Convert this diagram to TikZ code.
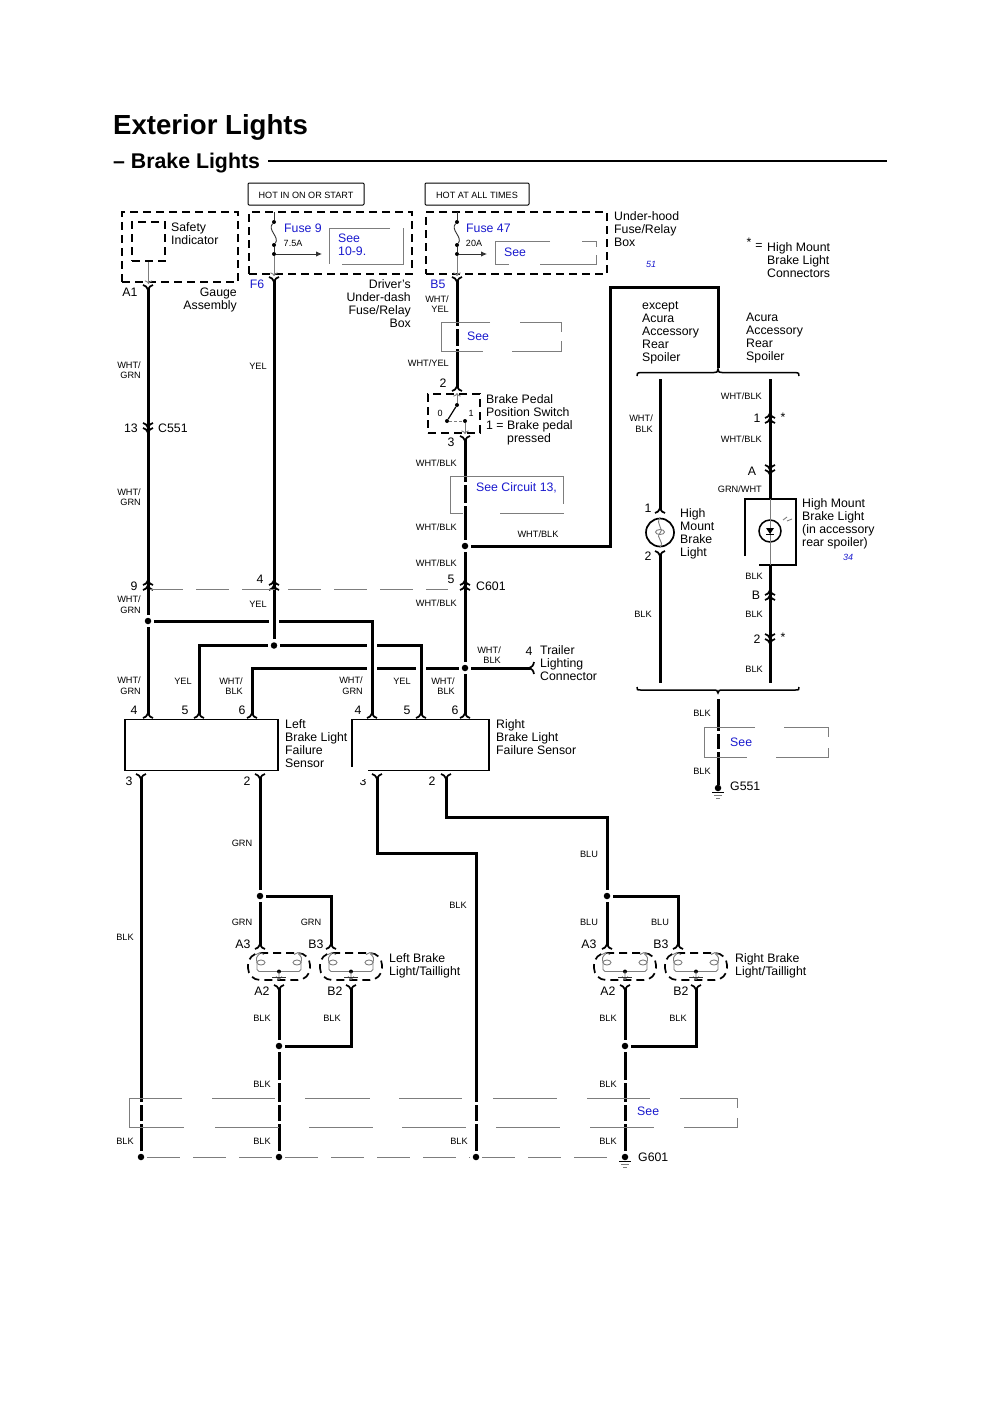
\documentclass[tikz,border=0pt]{standalone}
\usepackage{fontspec}
\setmainfont{Liberation Sans}
\usetikzlibrary{arrows.meta}
\definecolor{seeblue}{RGB}{25,25,205}
\definecolor{seegray}{RGB}{125,125,125}
\tikzset{
	wire/.style={line width=3pt},
	halo/.style={preaction={draw,white,line width=10pt}},
	seeline/.style={draw=seegray,line width=1pt},
	seedash/.style={draw=seegray,line width=1pt,dash pattern=on 33pt off 13pt},
	thingray/.style={draw=seegray,line width=0.9pt},
	thinblack/.style={draw=black!80,line width=0.9pt},
	dashbox/.style={draw,line width=1.7pt,dash pattern=on 8pt off 5pt,inner sep=0},
	solidbox/.style={draw,line width=1.4pt,inner sep=0},
	hotbox/.style={draw,line width=1pt,rounded corners=1pt,inner sep=0,text height=9pt,text depth=0pt,font=\fontsize{9.1}{10}\selectfont},
	junction/.style={circle,fill=black,inner sep=0,minimum size=6.5pt,outer sep=3pt},
	tinydot/.style={circle,fill=black,inner sep=0,minimum size=4pt},
	bigtext/.style={inner sep=0,anchor=west,align=left,font=\fontsize{12.3}{13}\selectfont},
	bigright/.style={bigtext,anchor=east,align=right},
	bluetext/.style={bigtext,text=seeblue},
	pagetext/.style={inner sep=0,text=seeblue,font=\itshape\fontsize{9}{10}\selectfont},
	smalltext/.style={inner sep=0,font=\fontsize{9}{10}\selectfont},
	wiretext/.style={inner sep=0,anchor=east,align=right,font=\fontsize{9.2}{10.5}\selectfont},
	wiremid/.style={inner sep=0,font=\fontsize{9.2}{10.5}\selectfont},
	pinnum/.style={inner sep=0,font=\fontsize{12.3}{13}\selectfont},
	pinup/.pic={\draw[line width=1.7pt] (-5,3) .. controls (-2,2) .. (0,-2) .. controls (2,2) .. (5,3);},
	pindown/.pic={\draw[line width=1.7pt] (-5,-3) .. controls (-2,-2) .. (0,2) .. controls (2,-2) .. (5,-3);},
	earthbars/.pic={
		\draw[line width=1pt] (-6,4) -- (6,4);
		\draw[thingray] (-4,7) -- (4,7) (-2,10) -- (2,10);
	},
	lampunit/.pic={
		\draw[dashbox,rounded corners=12pt] (-31,-13.5) rectangle (31,13.5);
		\draw[thingray] (-19,-13) .. controls (-23,-9) .. (-22,-4) -- (-22,3) -- (-20,5) -- (20,5) -- (22,3) -- (22,-4) .. controls (23,-9) .. (19,-13);
		\draw[thingray] (-18,-4) ellipse (4 and 2.5) (18,-4) ellipse (4 and 2.5);
		\draw[thingray] (-23,-12) -- (-19,-14) -- (-15,-12) (23,-12) -- (19,-14) -- (15,-12);
		\fill (0,5) circle (2);
		\draw[thingray] (0,5) -- (0,13) (-3,10) -- (0,13) -- (3,10);
		\draw[thinblack] (-7,11) -- (7,11);
	},
}
\begin{document}
\begin{tikzpicture}[x=1pt,y=-1pt]
	\useasboundingbox (0,0) rectangle (1000,1414);

	% Title
	\node[inner sep=0,anchor=base west,font=\bfseries\fontsize{27.6}{30}\selectfont] (title) at (113,134) {Exterior Lights};
	\node[inner sep=0,anchor=base west,font=\bfseries\fontsize{21.3}{24}\selectfont] (subtitle) at (113,168.5) {– Brake Lights};
	\coordinate (rulestart) at (268,161);
	\coordinate (ruleend) at (887,161);
	\draw[line width=1.2pt] (rulestart) -- (ruleend);

	% Power boxes
	\node[hotbox,minimum width=116pt,minimum height=22pt] (hotrun) at (306,194) {HOT IN ON OR START};
	\node[hotbox,minimum width=104pt,minimum height=22pt] (hotbatt) at (477,194) {HOT AT ALL TIMES};
	\node[dashbox,minimum width=116pt,minimum height=70pt] (gauge) at (180,247) {};
	\node[dashbox,minimum width=33pt,minimum height=39pt] (safety) at (148.5,241.5) {};
	\node[dashbox,minimum width=163pt,minimum height=62pt] (dashfuse) at (330.5,243) {};
	\node[dashbox,minimum width=181pt,minimum height=62pt] (hoodfuse) at (516.5,243) {};
	\node[dashbox,minimum width=52pt,minimum height=39pt] (switchbox) at (454,413.5) {};

	% Junctions
	\node[junction] (j148) at (148,621) {};
	\node[junction] (j274) at (274,645.5) {};
	\node[junction] (j546) at (465,546) {};
	\node[junction] (j668) at (465,668) {};
	\node[junction] (j260) at (260,896) {};
	\node[junction] (j607) at (607,896) {};
	\node[junction] (jleft) at (279,1046) {};
	\node[junction] (jright) at (625,1046) {};
	\node[junction] (j141) at (141,1157) {};
	\node[junction] (j279) at (279,1157) {};
	\node[junction] (j476) at (476,1157) {};
	\node[junction] (g601) at (625,1157) {};
	\node[circle,fill=black,inner sep=0,minimum size=6.5pt] (g551) at (718,788) {};

	% Sensors
	\node[solidbox,minimum width=153pt,minimum height=51pt] (sensorL) at (201.5,745) {};
	\node[solidbox,minimum width=137pt,minimum height=51pt] (sensorR) at (420.5,745) {};

	% Wire ends
	\foreach \n/\x/\y in {a1/148/288,f6/274/280,b5/457/280,sw2/457/388,sw3/465/439,
		lp4/148/715,lp5/199/715,lp6/252/715,rp4/372/715,rp5/421/715,rp6/465/715,
		ls3/141/777,ls2/260/777,rs3/377/777,rs2/446/777,bend1/377/853,bend2/446/817,bend3/607/817,
		la3/260/946,lb3/331/946,ra3/607/946,rb3/678/946,la2/279/988,lb2/351/988,ra2/625/988,rb2/696/988,
		trailer/530/668,feedA/610/546,feedB/610/287,feedC/718/287,feedD/718/368,
		hm1/660/510,hm2/660/554,hmA/660/379,hmB/660/683,ledA/770/379,ledB/770/499,ledC/770/565,ledD/770/683,
		sharedA/718/699,c601a/150/589,c601b/448/589,safetyout/148.5/284}
		\coordinate (\n) at (\x,\y);

	% High mount lights
	\node[circle,draw,line width=1.7pt,inner sep=0,minimum size=28pt] (hmbulb) at (660,532.5) {};
	\node[circle,draw,line width=1.5pt,inner sep=0,minimum size=22pt] (hmled) at (770,531) {};

	% Wires, the ones that hop over others last
	\draw[wire] (a1) -- (j148);
	\draw[wire] (j148) -- (lp4);
	\draw[wire] (b5) -- (sw2);
	\draw[wire] (sw3) -- (j546);
	\draw[wire] (j546) -- (j668);
	\draw[wire] (j668) -- (rp6);
	\draw[wire] (j546) -| (feedB) -- (feedC) -- (feedD);
	\draw[wire] (j668) -- (trailer);
	\draw[wire] (j668) -| (lp6);
	\draw[wire,halo] (j274) -| (rp5);
	\draw[wire] (j274) -| (lp5);
	\draw[wire,halo] (j148) -| (rp4);
	\draw[wire,halo] (f6) -- (j274);
	\draw[wire] (ls3) -- (j141);
	\draw[wire] (ls2) -- (j260);
	\draw[wire] (j260) -- (la3);
	\draw[wire] (j260) -| (lb3);
	\draw[wire] (rs3) -- (bend1) -| (j476);
	\draw[wire] (rs2) -- (bend2) -- (bend3) -- (j607);
	\draw[wire] (j607) -- (ra3);
	\draw[wire] (j607) -| (rb3);
	\draw[wire] (la2) -- (jleft);
	\draw[wire] (jleft) -- (j279);
	\draw[wire] (lb2) |- (jleft);
	\draw[wire] (ra2) -- (jright);
	\draw[wire] (jright) -- (g601);
	\draw[wire] (rb2) |- (jright);
	\draw[wire] (hmA) -- (hm1);
	\draw[wire] (hm2) -- (hmB);
	\draw[wire] (ledA) -- (ledB);
	\draw[wire] (ledC) -- (ledD);
	\draw[wire] (sharedA) -- (g551);

	% Gaps where the wires pass the See boxes
	\foreach \x/\y in {457/327,457/347,465/483,465/504,718/732,718/750,
		141/1103,141/1122,279/1081,279/1103,279/1122,476/1103,476/1122,625/1081,625/1103,625/1122}
		\fill[white] (\x-3,\y-1.5) rectangle (\x+3,\y+1.5);

	% Pins
	\foreach \x/\y in {457/388,199/715,252/715,372/715,421/715,465/715,148/715,660/510}
		\pic at (\x,\y) {pinup};
	\foreach \x/\y in {148/288,274/280,457/280,465/439,141/777,260/777,377/777,446/777,279/988,351/988,625/988,696/988,660/554}
		\pic at (\x,\y) {pindown};
	\foreach \x/\y in {260/946,331/946,607/946,678/946}
		\pic at (\x,\y) {pinup};
	\foreach \x/\y in {148/585,274/585,465/585,770/418,770/595}{
		\pic at (\x,\y-3) {pinup};
		\pic at (\x,\y+2) {pinup};
	}
	\foreach \x/\y in {148/428,770/470,770/639}{
		\pic at (\x,\y-2) {pindown};
		\pic at (\x,\y+3) {pindown};
	}
	\draw[line width=1.7pt] (534,662) .. controls (533,666) .. (529,668) .. controls (533,670) .. (534,674);
	\pic at (718,788) {earthbars};
	\pic at (625,1157) {earthbars};

	% Lamps
	\foreach \x in {279,351,625,696}
		\pic at (\x,966.5) {lampunit};

	% Braces
	\draw[line width=1.5pt] (637,376) .. controls (637,373) .. (641,372.5) -- (714,372.5) .. controls (717,372.5) .. (718,369)
		.. controls (719,372.5) .. (722,372.5) -- (795,372.5) .. controls (799,373) .. (799,376);
	\draw[line width=1.5pt] (637,687) .. controls (637,690) .. (641,690) -- (714,690) .. controls (717,690) .. (718,693)
		.. controls (719,690) .. (722,690) -- (795,690) .. controls (799,690) .. (799,687);

	% Fuses
	\node[tinydot] (f9a) at (274,222) {};
	\node[tinydot] (f9b) at (274,245) {};
	\node[tinydot] (f9c) at (274,254) {};
	\node[tinydot] (f47a) at (457,222) {};
	\node[tinydot] (f47b) at (457,245) {};
	\node[tinydot] (f47c) at (457,254) {};
	\coordinate (f9top) at (274,212);
	\coordinate (f47top) at (457,212);
	\coordinate (f9out) at (322,254);
	\coordinate (f47out) at (487,254);
	\coordinate (f9pin) at (274,276);
	\coordinate (f47pin) at (457,276);
	\draw[thinblack] (f9top) -- (f9a);
	\draw[thinblack] (f47top) -- (f47a);
	\draw[thinblack] (f9a) .. controls +(-7,8) and +(6,-8) .. (f9b);
	\draw[thinblack] (f47a) .. controls +(-7,8) and +(6,-8) .. (f47b);
	\draw[thinblack] (f9b) -- (f9c);
	\draw[thinblack] (f47b) -- (f47c);
	\draw[thinblack,-{Latex[length=6pt,width=5.5pt]}] (f9c) -- (f9out);
	\draw[thinblack,-{Latex[length=6pt,width=5.5pt]}] (f47c) -- (f47out);
	\draw[thingray,->] (f9c) -- (f9pin);
	\draw[thingray,->] (f47c) -- (f47pin);
	\draw[thingray,->] (safety.south) -- (safetyout);

	% Switch
	\node[tinydot] (swa) at (457,405) {};
	\node[tinydot] (swb) at (447,421) {};
	\node[tinydot] (swc) at (465,421) {};
	\coordinate (swtop) at (457,393);
	\coordinate (swbot) at (465,434);
	\draw[line width=1.2pt] (swa) -- (swb);
	\draw[thingray,->] (swa) -- (swtop);
	\draw[thingray,->] (swc) -- (swbot);
	\draw[thingray,dash pattern=on 3pt off 2pt] (swb) -- (swc);

	% Bulb and LED insides
	\draw[thingray] (hmbulb.north) .. controls (655,524) and (665,530) .. (660,533) .. controls (655,538) and (665,541) .. (hmbulb.south);
	\draw[thingray] (660,532) ellipse (4.5 and 2.5);
	\draw[line width=1.4pt] (745,556) -- (745,499) -- (796,499) -- (796,565) -- (759,565);
	\draw[thingray] (ledB) -- (hmled.north) (hmled.south) -- (ledC) (hmled.north) -- (hmled.south);
	\fill (766,528) -- (774,528) -- (770,534) -- cycle;
	\draw[line width=1pt] (766,534.5) -- (774,534.5);
	\draw[thingray] (783,520) -- (787,517) (787,521) -- (792,519);

	% See boxes, open in places
	\draw[seeline] (390,228) -- (329,228) -- (329,264) (342,264) -- (403,264) -- (403,228);
	\draw[seeline] (550,241) -- (495,241) -- (495,264) -- (509,264) (540,264) -- (596,264) -- (596,255) (582,241) -- (596,241) -- (596,247);
	\draw[seeline] (490,322) -- (441,322) -- (441,351) -- (483,351) (512,351) -- (561,351) -- (561,341) (520,322) -- (561,322) -- (561,332);
	\draw[seeline] (450,476) -- (450,513) -- (463,513) (500,513) -- (564,513) (450,476) -- (563,476) -- (563,504);
	\draw[seeline] (755,727) -- (704,727) -- (704,757) -- (747,757) (776,757) -- (828,757) -- (828,748) (784,727) -- (828,727) -- (828,737);
	\draw[seeline] (182,1098) -- (129,1098) -- (129,1127) -- (184,1127);
	\foreach \a/\b in {212/275,305/370,399/462,493/557,587/650}
		\draw[seeline] (\a,1098) -- (\b,1098);
	\foreach \a/\b in {215/279,309/373,402/466,496/560,590/654}
		\draw[seeline] (\a,1127) -- (\b,1127);
	\draw[seeline] (680,1098) -- (737,1098) -- (737,1108) (737,1118) -- (737,1127) -- (684,1127);

	% Dashed lines across connectors
	\draw[seedash] (c601a) -- (c601b);
	\draw[seedash] (j141) -- (j279);
	\draw[seedash] (j279) -- (j476);
	\draw[seedash] (j476) -- (g601);

	% Open corner of the right sensor, it cuts the pin number
	\node[pinnum] (n363-781) at (363,781) {3};
	\fill[white] (350,767) rectangle (368,779);

	% Texts
	\foreach \x/\y/\txt in {171/233.5/{Safety\\Indicator},614/229/{Under-hood\\Fuse/Relay\\Box},767/260.5/{High Mount\\Brake Light\\Connectors},
		642/333/{except\\Acura\\Accessory\\Rear\\Spoiler},746/338.5/{Acura\\Accessory\\Rear\\Spoiler},
		486/419.5/{Brake Pedal\\Position Switch\\1 = Brake pedal\\\hspace*{21pt}pressed},680/533.5/{High\\Mount\\Brake\\Light},
		802/523.5/{High Mount\\Brake Light\\(in accessory\\rear spoiler)},540/663/{Trailer\\Lighting\\Connector},
		285/743.5/{Left\\Brake Light\\Failure\\Sensor},496/737/{Right\\Brake Light\\Failure Sensor},
		389/965.5/{Left Brake\\Light/Taillight},735/965.5/{Right Brake\\Light/Taillight},
		158/428/C551,476/586/C601,730/786/G551,638/1157/G601}
		\node[bigtext] (t\x-\y) at (\x,\y) {\txt};
	\foreach \x/\y/\txt in {237/299.5/{Gauge\\Assembly},411/303.5/{Driver’s\\Under-dash\\Fuse/Relay\\Box}}
		\node[bigright] (t\x-\y) at (\x,\y) {\txt};
	\foreach \x/\y/\txt in {284/228/Fuse 9,338/244.5/{See\\10-9.},466/228/Fuse 47,504/252/See,467/336/See,476/488/{See Circuit 13,},730/742/See,637/1111/See}
		\node[bluetext] (b\x-\y) at (\x,\y) {\txt};
	\foreach \x/\y/\txt in {257/284/F6,438/284/B5}
		\node[pinnum,text=seeblue] (b\x-\y) at (\x,\y) {\txt};
	\foreach \x/\y/\txt in {651/264/51,848/557/34}
		\node[pagetext] (p\x-\y) at (\x,\y) {\txt};
	\foreach \x/\y/\txt in {293/243/7.5A,474/243/20A,440/413/0,471/413/1}
		\node[smalltext] (s\x-\y) at (\x,\y) {\txt};
	\foreach \x/\y/\txt in {141/370/{WHT/\\GRN},141/497/{WHT/\\GRN},141/604.5/{WHT/\\GRN},141/685.5/{WHT/\\GRN},
		363/685.5/{WHT/\\GRN},243/686/{WHT/\\BLK},455/686/{WHT/\\BLK},501/655/{WHT/\\BLK},449/304/{WHT/\\YEL},449/363/{WHT/YEL},
		457/463/{WHT/BLK},457/527/{WHT/BLK},457/563/{WHT/BLK},457/603/{WHT/BLK},653/423.5/{WHT/\\BLK},
		762/396/{WHT/BLK},762/439/{WHT/BLK},762/489/{GRN/WHT},763/576/BLK,763/614/BLK,763/669/BLK}
		\node[wiretext] (w\x-\y) at (\x,\y) {\txt};
	\foreach \x/\y/\txt in {258/366/YEL,258/604/YEL,183/681/YEL,402/681/YEL,538/534/{WHT/BLK},643/614/BLK,702/713/BLK,702/771/BLK,
		242/843/GRN,589/854/BLU,458/905/BLK,125/937/BLK,242/922/GRN,311/922/GRN,589/922/BLU,660/922/BLU,
		262/1018/BLK,332/1018/BLK,608/1018/BLK,678/1018/BLK,262/1084/BLK,608/1084/BLK,
		125/1141/BLK,262/1141/BLK,459/1141/BLK,608/1141/BLK}
		\node[wiremid] (m\x-\y) at (\x,\y) {\txt};
	\foreach \x/\y/\txt in {130/292/A1,131/428/13,134/586/9,260/579/4,451/579/5,443/383/2,451/442/3,648/508/1,648/556/2,
		757/418/1,752/471/A,756/595/B,757/639/2,529/651/4,134/710/4,185/710/5,242/710/6,358/710/4,407/710/5,455/710/6,
		129/781/3,247/781/2,432/781/2,243/944/A3,316/944/B3,589/944/A3,661/944/B3,
		262/991/A2,335/991/B2,608/991/A2,681/991/B2,783/417/*,783/637/*,749/242/*,759/246/=}
		\node[pinnum] (n\x-\y) at (\x,\y) {\txt};
\end{tikzpicture}
\end{document}
